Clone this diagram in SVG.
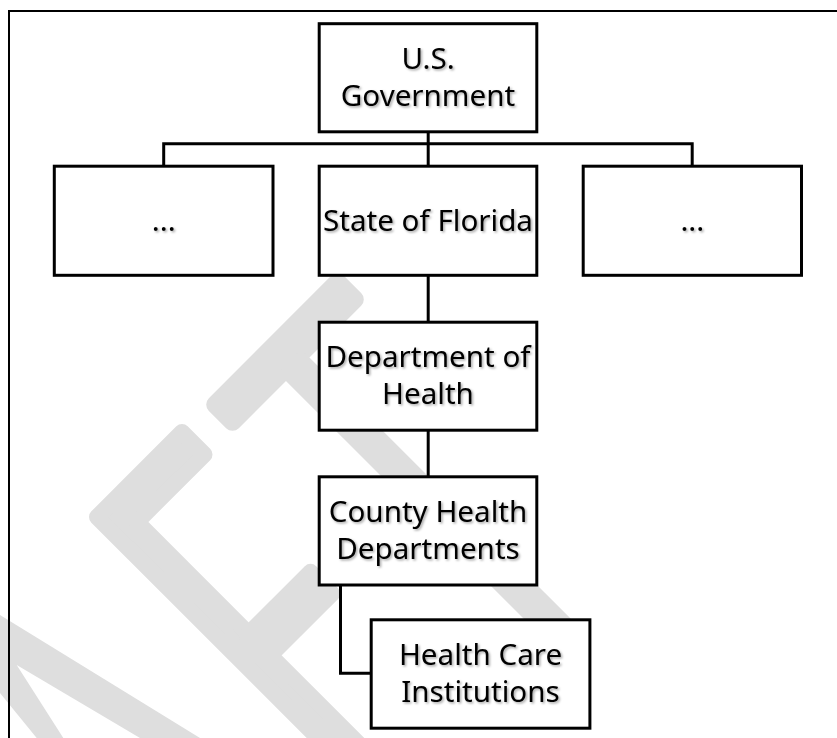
<svg xmlns="http://www.w3.org/2000/svg" width="837" height="738" viewBox="0 0 837 738">
  <defs>
    <filter id="shadow" x="-10%" y="-20%" width="120%" height="150%">
      <feDropShadow dx="1.5" dy="1.5" stdDeviation="1" flood-color="#000" flood-opacity="0.35"/>
    </filter>
  </defs>
  <style>
    .wm { fill: #dedede; stroke: none; }
    .wmr { fill: #dedede; stroke: #dedede; stroke-width: 16; stroke-linejoin: round; }
    .box { fill: #ffffff; stroke: #000000; stroke-width: 3; }
    .conn { fill: none; stroke: #000000; stroke-width: 3; }
    .frame { fill: none; stroke: #000000; stroke-width: 2; }
    .lbl { font-family: "Noto Sans", "Open Sans", sans-serif; font-size: 29.6px; fill: #000000; text-anchor: middle; filter: url(#shadow); }
  </style>
  <rect x="0" y="0" width="837" height="738" fill="#ffffff"/>

  <!-- watermark -->
  <g id="watermark">
    <rect class="wm" x="-95.5" y="-21.2" width="191" height="42.4" rx="9" transform="translate(285 352) rotate(-45)"/>
    <rect class="wm" x="-16.6" y="-201.5" width="33.2" height="403" rx="8" transform="translate(431.75 503.25) rotate(-45)"/>
    <polygon class="wmr" points="182,432 204.5,454.5 137,522 557.5,942.5 540,960 97,517"/>
    <rect class="wm" x="-53" y="-23.3" width="106" height="46.7" rx="8" transform="translate(289.5 614.5) rotate(-45)"/>
    <polygon class="wm" points="0,615 200,738 140,738 16.7,665 63.3,738 36.7,738 0,693"/>
  </g>

  <!-- outer frame -->
  <path class="frame" d="M9,738 V11 H837"/>

  <!-- connectors -->
  <g id="connectors">
    <path class="conn" d="M428.2,132 V143.7"/>
    <path class="conn" d="M163.7,166 V143.7 H692.2 V166"/>
    <path class="conn" d="M428.2,143.7 V166"/>
    <path class="conn" d="M428.2,275.3 V322.2"/>
    <path class="conn" d="M428.2,430.2 V476.8"/>
    <path class="conn" d="M340.5,585 V673.2 H371.2"/>
  </g>

  <g id="node-us-government">
    <rect class="box" x="319.2" y="23.7" width="217.6" height="108.1"/>
    <text class="lbl" x="428" y="69">U.S.</text>
    <text class="lbl" x="428" y="106">Government</text>
  </g>
  <g id="node-other-left">
    <rect class="box" x="54.3" y="166.2" width="218.7" height="109.1"/>
    <text class="lbl" x="163.7" y="231">...</text>
  </g>
  <g id="node-state-of-florida">
    <rect class="box" x="319.2" y="166.2" width="217.6" height="109.1"/>
    <text class="lbl" x="428" y="231">State of Florida</text>
  </g>
  <g id="node-other-right">
    <rect class="box" x="583.2" y="166.2" width="218.3" height="109.1"/>
    <text class="lbl" x="692.3" y="231">...</text>
  </g>
  <g id="node-department-of-health">
    <rect class="box" x="319.2" y="322.2" width="217.6" height="108"/>
    <text class="lbl" x="428" y="367">Department of</text>
    <text class="lbl" x="428" y="404">Health</text>
  </g>
  <g id="node-county-health-departments">
    <rect class="box" x="319.2" y="476.8" width="217.6" height="108.2"/>
    <text class="lbl" x="428" y="522">County Health</text>
    <text class="lbl" x="428" y="559">Departments</text>
  </g>
  <g id="node-health-care-institutions">
    <rect class="box" x="371.2" y="619.8" width="218.7" height="108.4"/>
    <text class="lbl" x="480.5" y="665">Health Care</text>
    <text class="lbl" x="480.5" y="702">Institutions</text>
  </g>
</svg>
